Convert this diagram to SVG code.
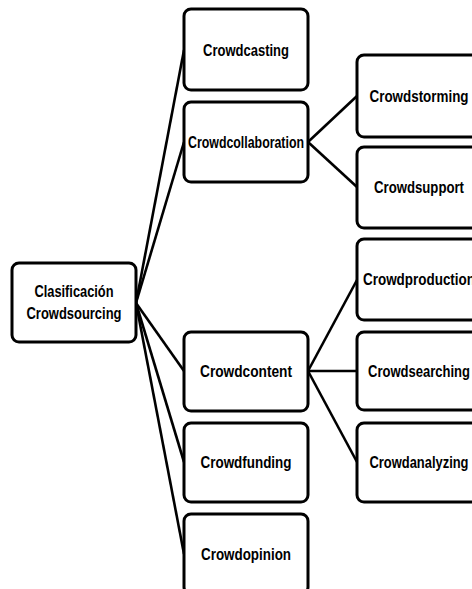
<svg xmlns="http://www.w3.org/2000/svg" width="472" height="589" viewBox="0 0 472 589">
<style>
.box{fill:#fff;stroke:#000;stroke-width:3}
.lbl{font-family:"Liberation Sans",Arial,sans-serif;font-weight:bold;font-size:16px;fill:#000;text-anchor:middle}
.con{stroke:#000;stroke-width:2.6;fill:none}
</style>
<rect width="472" height="589" fill="#fff"/>
<g id="connectors">
<line class="con" x1="136" y1="303" x2="184" y2="50"/>
<line class="con" x1="136" y1="303" x2="184" y2="142"/>
<line class="con" x1="136" y1="303" x2="184" y2="371"/>
<line class="con" x1="136" y1="303" x2="184" y2="462"/>
<line class="con" x1="136" y1="303" x2="184" y2="554"/>
<line class="con" x1="308" y1="142" x2="357" y2="96"/>
<line class="con" x1="308" y1="142" x2="357" y2="187"/>
<line class="con" x1="308" y1="371" x2="357" y2="280"/>
<line class="con" x1="308" y1="371" x2="357" y2="371"/>
<line class="con" x1="308" y1="371" x2="357" y2="462"/>
</g>
<g id="root">
<rect class="box" x="12" y="263" width="124" height="79" rx="7"/>
<text class="lbl" x="74" y="297" textLength="79" lengthAdjust="spacingAndGlyphs">Clasificación</text>
<text class="lbl" x="74" y="319" textLength="95" lengthAdjust="spacingAndGlyphs">Crowdsourcing</text>
</g>
<g id="crowdcasting">
<rect class="box" x="184" y="9" width="124" height="81" rx="7"/>
<text class="lbl" x="246" y="56" textLength="86" lengthAdjust="spacingAndGlyphs">Crowdcasting</text>
</g>
<g id="crowdcollaboration">
<rect class="box" x="184" y="102" width="124" height="80" rx="7"/>
<text class="lbl" x="246" y="148" textLength="116" lengthAdjust="spacingAndGlyphs">Crowdcollaboration</text>
</g>
<g id="crowdcontent">
<rect class="box" x="184" y="332" width="124" height="79" rx="7"/>
<text class="lbl" x="246" y="377" textLength="92" lengthAdjust="spacingAndGlyphs">Crowdcontent</text>
</g>
<g id="crowdfunding">
<rect class="box" x="184" y="423" width="124" height="79" rx="7"/>
<text class="lbl" x="246" y="468" textLength="91" lengthAdjust="spacingAndGlyphs">Crowdfunding</text>
</g>
<g id="crowdopinion">
<rect class="box" x="184" y="514" width="124" height="80" rx="7"/>
<text class="lbl" x="246" y="560" textLength="90" lengthAdjust="spacingAndGlyphs">Crowdopinion</text>
</g>
<g id="crowdstorming">
<rect class="box" x="357" y="55" width="124" height="82" rx="7"/>
<text class="lbl" x="419" y="102" textLength="99" lengthAdjust="spacingAndGlyphs">Crowdstorming</text>
</g>
<g id="crowdsupport">
<rect class="box" x="357" y="147" width="124" height="81" rx="7"/>
<text class="lbl" x="419" y="193" textLength="90" lengthAdjust="spacingAndGlyphs">Crowdsupport</text>
</g>
<g id="crowdproduction">
<rect class="box" x="357" y="239" width="124" height="81" rx="7"/>
<text class="lbl" x="419" y="285" textLength="112" lengthAdjust="spacingAndGlyphs">Crowdproduction</text>
</g>
<g id="crowdsearching">
<rect class="box" x="357" y="332" width="124" height="78" rx="7"/>
<text class="lbl" x="419" y="377" textLength="102" lengthAdjust="spacingAndGlyphs">Crowdsearching</text>
</g>
<g id="crowdanalyzing">
<rect class="box" x="357" y="423" width="124" height="79" rx="7"/>
<text class="lbl" x="419" y="468" textLength="99" lengthAdjust="spacingAndGlyphs">Crowdanalyzing</text>
</g>
</svg>
